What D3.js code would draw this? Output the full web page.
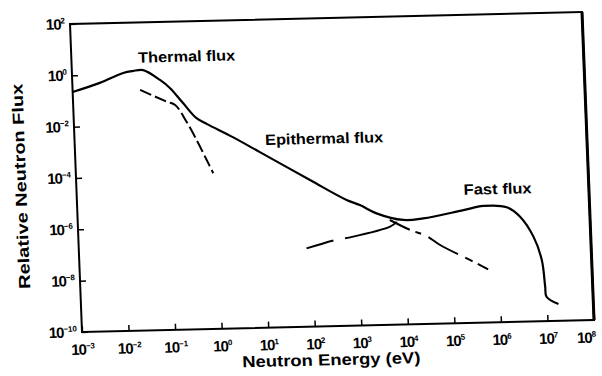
<!DOCTYPE html>
<html>
<head>
<meta charset="utf-8">
<script src="https://cdn.jsdelivr.net/npm/d3@7"></script>
<style>
  body { margin: 0; background: #fff; }
  svg { display: block; font-family: 'Liberation Sans', Arial, sans-serif; font-weight: bold; }
</style>
</head>
<body>
<div id="chart"></div>
<script>
// total flux curve, energy in eV and relative flux
const totalEnergy = [1e-3, 3.9e-3, 0.0126, 0.0204, 0.0339, 0.0767, 0.123, 0.229, 0.427, 0.724,
  2.51, 9.3, 105, 617, 1175, 2630, 9770, 2.63e4, 1.95e5, 5.25e5, 1.66e6, 3.16e6, 5.89e6,
  8.5e6, 9.55e6, 1.0e7, 1.78e7];
const totalFlux = [0.224, 0.48, 1.1, 1.29, 1.38, 0.55, 0.263, 0.066, 0.017, 9.5e-3,
  2.8e-3, 6.9e-4, 5.1e-5, 7.9e-6, 4.9e-6, 2.24e-6, 1.17e-6, 1.29e-6, 2.5e-6, 3.47e-6, 2.95e-6, 1.23e-6, 2.0e-7,
  2.4e-8, 2.2e-9, 8.9e-10, 4.5e-10];

// maxwellian (thermal) component, dashed
const thermalEnergy = [0.0282, 0.102, 0.155, 0.263, 0.417, 0.661, 0.891];
const thermalFlux = [0.234, 0.0776, 0.0562, 0.0123, 2.34e-3, 3.8e-4, 1.15e-4];

// fission (fast) component continued to low energy, dashed
const fastEnergy = [77.6, 324, 676, 5010, 7080];
const fastFlux = [1.12e-7, 2.24e-7, 2.75e-7, 6.6e-7, 1.0e-6];

// 1/E (epithermal) component continued to high energy, dash-dot
const epiEnergy = [5010, 1.35e4, 3.02e4, 5.75e4, 2.88e5, 5.89e5];
const epiFlux = [1.2e-6, 4.7e-7, 2.63e-7, 1.15e-7, 2.4e-8, 1.17e-8];

const xTickExponents = [-3, -2, -1, 0, 1, 2, 3, 4, 5, 6, 7, 8];
const yTickExponents = [2, 0, -2, -4, -6, -8, -10];

const regionLabels = ['Thermal flux', 'Epithermal flux', 'Fast flux'];
const regionLabelEnergy = [0.0272, 12.3, 2.04e5];
const regionLabelFlux = [2.7, 1.29e-3, 9.8e-6];

const dimensions = {
  width: 602,
  height: 376,
  margin: { left: 70, top: 24 },
  ctrWidth: 512,
  ctrHeight: 308
};

const svg = d3.select('#chart')
  .append('svg')
  .attr('width', dimensions.width)
  .attr('height', dimensions.height);

// the scanned figure sits slightly skewed on the page
const ctr = svg.append('g')
  .attr('transform', `translate(${dimensions.margin.left}, ${dimensions.margin.top}) matrix(1,-0.0234,0.039,1,0,0)`);

const xScale = d3.scaleLog()
  .domain([1e-3, 1e8])
  .range([0, dimensions.ctrWidth]);

const yScale = d3.scaleLog()
  .domain([1e-10, 1e2])
  .range([dimensions.ctrHeight, 0]);

const supMinus = n => (n < 0 ? '\u2212' + Math.abs(n) : String(n));

// builds "10" with a superscript exponent inside an axis tick label
function powerLabel(sel, exponents) {
  sel.each(function (d, i) {
    const t = d3.select(this)
      .attr('font-size', 15)
      .attr('font-family', "'Liberation Sans', Arial, sans-serif")
      .attr('font-weight', 'bold')
      .attr('letter-spacing', '-1')
      .attr('fill', '#000');
    t.append('tspan').text('10');
    t.append('tspan')
      .attr('font-size', 8)
      .attr('dy', '-0.75em')
      .attr('letter-spacing', '0')
      .text(supMinus(exponents[i]));
  });
}

// axes: inward ticks, labels rebuilt as 10 with superscript
const xAxis = d3.axisBottom(xScale)
  .tickValues(xTickExponents.map(e => Math.pow(10, e)))
  .tickSizeInner(-6)
  .tickSizeOuter(0)
  .tickPadding(12)
  .tickFormat('');

const xAxisGroup = ctr.append('g')
  .attr('transform', `translate(0, ${dimensions.ctrHeight})`)
  .call(xAxis);

xAxisGroup.selectAll('.tick text').call(powerLabel, xTickExponents);

// last label sits against the page edge in the scan
xAxisGroup.selectAll('.tick text')
  .filter((d, i) => i === xTickExponents.length - 1)
  .attr('text-anchor', 'end')
  .attr('x', 1);

const yAxis = d3.axisLeft(yScale)
  .tickValues(yTickExponents.map(e => Math.pow(10, e)))
  .tickSizeInner(-6)
  .tickSizeOuter(0)
  .tickPadding(5)
  .tickFormat('');

const yAxisGroup = ctr.append('g')
  .call(yAxis);

yAxisGroup.selectAll('.tick text').call(powerLabel, yTickExponents);

ctr.selectAll('.domain').remove();
ctr.selectAll('.tick line').attr('stroke', '#000').attr('stroke-width', 1.5);

// frame
ctr.append('rect')
  .attr('x', 0)
  .attr('y', 0)
  .attr('width', dimensions.ctrWidth)
  .attr('height', dimensions.ctrHeight)
  .attr('fill', 'none')
  .attr('stroke', '#000')
  .attr('stroke-width', 2);

ctr.append('line')
  .attr('x1', dimensions.ctrWidth)
  .attr('x2', dimensions.ctrWidth)
  .attr('y1', 0)
  .attr('y2', dimensions.ctrHeight)
  .attr('stroke', '#000')
  .attr('stroke-width', 3);

const line = d3.line()
  .x(d => xScale(d[0]))
  .y(d => yScale(d[1]))
  .curve(d3.curveCatmullRom.alpha(0.5));

const curves = [
  { data: d3.zip(totalEnergy, totalFlux), dash: null, width: 2.2 },
  { data: d3.zip(thermalEnergy, thermalFlux), dash: '12,4', width: 2 },
  { data: d3.zip(fastEnergy, fastFlux), dash: '28,12,60', width: 2 },
  { data: d3.zip(epiEnergy, epiFlux), dash: '22,6,6,8,34,8,8,6', width: 2 }
];

ctr.selectAll('path.flux')
  .data(curves)
  .join('path')
  .attr('class', 'flux')
  .attr('d', d => line(d.data))
  .attr('fill', 'none')
  .attr('stroke', '#000')
  .attr('stroke-width', d => d.width)
  .attr('stroke-dasharray', d => d.dash)
  .attr('stroke-linejoin', 'round');

// region annotations
const labelWidths = [97, 118, 68];
ctr.selectAll('text.region')
  .data(regionLabels)
  .join('text')
  .attr('class', 'region')
  .attr('x', (d, i) => xScale(regionLabelEnergy[i]))
  .attr('y', (d, i) => yScale(regionLabelFlux[i]))
  .attr('font-size', 15)
  .attr('textLength', (d, i) => labelWidths[i])
  .attr('lengthAdjust', 'spacingAndGlyphs')
  .text(d => d);

// axis titles
ctr.append('text')
  .attr('x', 248)
  .attr('y', 347)
  .attr('text-anchor', 'middle')
  .attr('font-size', 16)
  .attr('textLength', 178)
  .attr('lengthAdjust', 'spacingAndGlyphs')
  .text('Neutron Energy (eV)');

ctr.append('text')
  .attr('transform', 'translate(-50, 161) rotate(-90)')
  .attr('text-anchor', 'middle')
  .attr('font-size', 16)
  .attr('textLength', 205)
  .attr('lengthAdjust', 'spacingAndGlyphs')
  .text('Relative Neutron Flux');
</script>
</body>
</html>
